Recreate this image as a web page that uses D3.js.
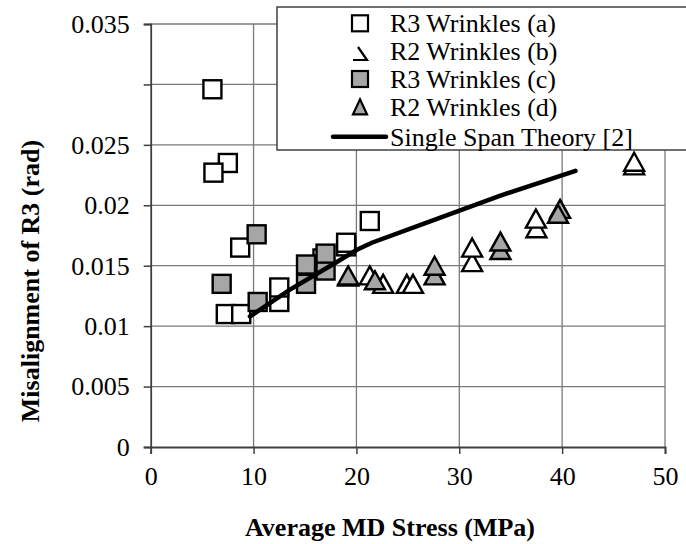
<!DOCTYPE html>
<html>
<head>
<meta charset="utf-8">
<script src="https://cdn.jsdelivr.net/npm/d3@7"></script>
<style>
  body { margin: 0; background: #fff; }
  svg { display: block; font-family: "Liberation Serif", "Times New Roman", serif; }
</style>
</head>
<body>
<svg id="chart" width="686" height="544"></svg>
<script>
// R3 Wrinkles (a) - open squares
var r3a = [
  [6.0, 0.0296], [7.5, 0.0235], [6.1, 0.0227], [8.7, 0.0165],
  [7.3, 0.0110], [8.8, 0.0110], [12.5, 0.0120], [12.5, 0.0132],
  [16.7, 0.0156], [19.0, 0.0166], [19.0, 0.0169], [21.3, 0.0187]
];
// R2 Wrinkles (b) - open triangles
var r2b = [
  [19.2, 0.0141], [21.3, 0.0142], [22.6, 0.0135], [24.9, 0.0135],
  [25.5, 0.0135], [31.25, 0.0153], [31.25, 0.0165], [37.5, 0.0181],
  [37.45, 0.0189], [47.0, 0.0233], [47.0, 0.0236]
];
// R3 Wrinkles (c) - grey squares
var r3c = [
  [6.9, 0.0135], [10.3, 0.0176], [10.4, 0.0120], [15.1, 0.0135],
  [15.1, 0.0151], [17.0, 0.0146], [17.0, 0.0160]
];
// R2 Wrinkles (d) - grey triangles
var r2d = [
  [19.2, 0.0142], [21.8, 0.0138], [27.6, 0.0142], [27.6, 0.0150],
  [34.0, 0.0163], [34.0, 0.0170], [39.8, 0.0197], [39.6, 0.0193]
];
// Single Span Theory [2]
var theory = [
  [9.65, 0.0108], [13.5, 0.0130], [17.9, 0.0152], [20.0, 0.0163],
  [21.5, 0.0169], [27.1, 0.01865], [34.0, 0.0208], [41.3, 0.02285]
];

var xTicks = [0, 10, 20, 30, 40, 50];
var yTicks = [0, 0.005, 0.01, 0.015, 0.02, 0.025, 0.03, 0.035];
var yTickLabels = ["0", "0.005", "0.01", "0.015", "0.02", "0.025", "", "0.035"];
var legendNames = ["R3 Wrinkles (a)", "R2 Wrinkles (b)", "R3 Wrinkles (c)", "R2 Wrinkles (d)", "Single Span Theory [2]"];

var plotL = 150.7, plotR = 665, plotT = 24, plotB = 447;
var grey = "#a6a6a6";

var svg = d3.select("#chart");

var x = d3.scaleLinear().domain([0, 50]).range([plotL, plotR]);
var y = d3.scaleLinear().domain([0, 0.035]).range([plotB, plotT]);

// grid
svg.append("g").selectAll("line").data(xTicks.slice(1)).enter().append("line")
  .attr("x1", function(d) { return x(d); }).attr("x2", function(d) { return x(d); })
  .attr("y1", plotT).attr("y2", plotB)
  .attr("stroke", "#7a7a7a").attr("stroke-width", 1.3);
svg.append("g").selectAll("line").data(yTicks.slice(1)).enter().append("line")
  .attr("x1", plotL).attr("x2", plotR)
  .attr("y1", function(d) { return y(d); }).attr("y2", function(d) { return y(d); })
  .attr("stroke", "#7a7a7a").attr("stroke-width", 1.3);

// axes
var xAxis = svg.append("g")
  .attr("transform", "translate(0," + plotB + ")")
  .call(d3.axisBottom(x).tickValues(xTicks).tickSize(7).tickPadding(13).tickFormat(d3.format("d")));
var yAxis = svg.append("g")
  .attr("transform", "translate(" + plotL + ",0)")
  .call(d3.axisLeft(y).tickValues(yTicks).tickSize(7).tickPadding(14)
    .tickFormat(function(d, i) { return yTickLabels[i]; }));

[xAxis, yAxis].forEach(function(a) {
  a.select(".domain").attr("stroke", "#404040").attr("stroke-width", 1.8);
  a.selectAll(".tick line").attr("stroke", "#404040").attr("stroke-width", 1.5);
  a.selectAll(".tick text").attr("font-family", "Liberation Serif").attr("font-size", 26).attr("fill", "#000");
});

// axis titles
svg.append("text")
  .attr("x", 390).attr("y", 536)
  .attr("text-anchor", "middle").attr("font-weight", "bold").attr("font-size", 26)
  .text("Average MD Stress (MPa)");
svg.append("text")
  .attr("transform", "translate(39,281) rotate(-90)")
  .attr("text-anchor", "middle").attr("font-weight", "bold").attr("font-size", 26)
  .text("Misalignment of R3 (rad)");

// markers
var sq = 18;
function squares(data, fill) {
  svg.append("g").selectAll("rect").data(data).enter().append("rect")
    .attr("x", function(d) { return x(d[0]) - sq / 2; })
    .attr("y", function(d) { return y(d[1]) - sq / 2; })
    .attr("width", sq).attr("height", sq)
    .attr("fill", fill).attr("stroke", "#000").attr("stroke-width", 2.4);
}
function triangles(data, fill) {
  svg.append("g").selectAll("path").data(data).enter().append("path")
    .attr("d", function(d) {
      var cx = x(d[0]), cy = y(d[1]), w = 10, h = 9;
      return "M" + cx + "," + (cy - h) + "L" + (cx + w) + "," + (cy + h) + "L" + (cx - w) + "," + (cy + h) + "Z";
    })
    .attr("fill", fill).attr("stroke", "#000").attr("stroke-width", 2.4);
}

squares(r3a, "#fff");
triangles(r2b, "#fff");
squares(r3c, grey);
triangles(r2d, grey);

svg.append("path")
  .datum(theory)
  .attr("d", d3.line().x(function(d) { return x(d[0]); }).y(function(d) { return y(d[1]); }))
  .attr("fill", "none").attr("stroke", "#000").attr("stroke-width", 4.5).attr("stroke-linecap", "round");

// legend
var lg = svg.append("g");
lg.append("rect").attr("x", 277).attr("y", 7).attr("width", 420).attr("height", 143)
  .attr("fill", "#fff").attr("stroke", "#404040").attr("stroke-width", 1.5);
var rowY = [23.3, 51, 79, 107.3, 136.7], symX = 360;
legendNames.forEach(function(name, i) {
  lg.append("text").attr("x", 390).attr("y", rowY[i]).attr("dy", "0.35em")
    .attr("font-size", 26).text(name);
});
lg.append("rect").attr("x", symX - 8).attr("y", rowY[0] - 8).attr("width", 16).attr("height", 16)
  .attr("fill", "#fff").attr("stroke", "#000").attr("stroke-width", 2.2);
lg.append("path")
  .attr("d", "M" + (symX - 7) + "," + (rowY[1] + 9) + "L" + (symX + 7) + "," + (rowY[1] + 9) +
    "L" + (symX - 2) + "," + (rowY[1] - 4))
  .attr("fill", "none").attr("stroke", "#000").attr("stroke-width", 2.2);
lg.append("rect").attr("x", symX - 8).attr("y", rowY[2] - 8).attr("width", 16).attr("height", 16)
  .attr("fill", grey).attr("stroke", "#000").attr("stroke-width", 2.2);
lg.append("path")
  .attr("d", "M" + symX + "," + (rowY[3] - 8) + "L" + (symX + 7) + "," + (rowY[3] + 7) +
    "L" + (symX - 7) + "," + (rowY[3] + 7) + "Z")
  .attr("fill", grey).attr("stroke", "#000").attr("stroke-width", 2.2);
lg.append("line").attr("x1", 333).attr("x2", 386).attr("y1", rowY[4]).attr("y2", rowY[4])
  .attr("stroke", "#000").attr("stroke-width", 4.5).attr("stroke-linecap", "round");
</script>
</body>
</html>
